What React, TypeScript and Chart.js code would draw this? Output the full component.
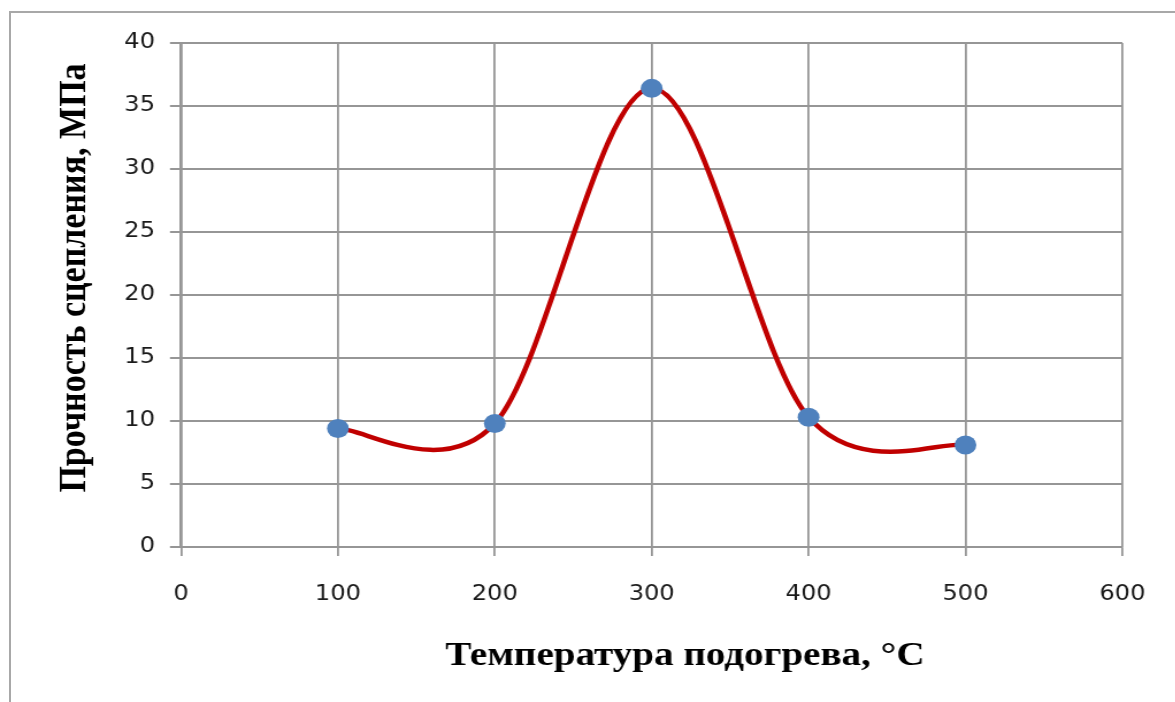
import React, { useEffect, useRef } from 'react';
import { Chart, registerables } from 'chart.js';

Chart.register(...registerables);

// Data
const temperatures = [100, 200, 300, 400, 500];
const strength = [9.4, 9.8, 36.4, 10.3, 8.1];

// leading spaces only nudge the titles to where the reference places them
const xAxisTitle = '\u2003\u2002\u2009Температура подогрева, °C';
const yAxisTitle = '\u2003Прочность сцепления, МПа';

const xRange = [0, 600];
const xStep = 100;
const yRange = [0, 40];
const yStep = 5;

// The reference picture is horizontally stretched; reproduce by scaling the canvas
const STRETCH = 1.15;
const PAGE_W = 1175;
const PAGE_H = 702;
const LOGICAL_W = Math.round(PAGE_W / STRETCH);

// Excel-style smoothing: Catmull-Rom control points (tangent = (next - prev) / 6)
const excelSmooth = {
  id: 'excelSmooth',
  beforeDatasetDraw(chart: any, args: any) {
    const meta = args.meta;
    const line = meta.dataset;
    if (!line) return;
    line.updateControlPoints(chart.chartArea, 'x');
    const pts = meta.data;
    const n = pts.length;
    for (let i = 0; i < n; i++) {
      const p = pts[i];
      const prev = pts[Math.max(i - 1, 0)];
      const next = pts[Math.min(i + 1, n - 1)];
      const tx = (next.x - prev.x) / 6;
      const ty = (next.y - prev.y) / 6;
      p.cp1x = p.x - tx;
      p.cp1y = p.y - ty;
      p.cp2x = p.x + tx;
      p.cp2y = p.y + ty;
    }
    line._path = undefined;
  },
};

export default function App() {
  const canvasRef = useRef<HTMLCanvasElement | null>(null);

  useEffect(() => {
    const canvas = canvasRef.current;
    if (!canvas) return;
    const points = temperatures.map((t, i) => ({ x: t, y: strength[i] }));
    const gridColor = '#969696';
    const titleFamily = '"Liberation Serif", "Times New Roman", serif';
    const tickFamily = '"DejaVu Sans", Verdana, sans-serif';
    const chart = new Chart(canvas, {
      type: 'line',
      data: {
        datasets: [
          {
            data: points,
            borderColor: '#C00000',
            borderWidth: 4.5,
            tension: 0.4,
            fill: false,
            pointBackgroundColor: '#4F81BD',
            pointBorderColor: '#4F81BD',
            pointBorderWidth: 0,
            pointRadius: 9.5,
            pointHoverRadius: 9.5,
          },
        ],
      },
      options: {
        responsive: false,
        animation: false,
        devicePixelRatio: 1,
        layout: { padding: { left: 44.6, right: 43, top: 43, bottom: 25.6 } },
        plugins: {
          legend: { display: false },
          tooltip: { enabled: false },
        },
        scales: {
          x: {
            type: 'linear',
            min: xRange[0],
            max: xRange[1],
            ticks: {
              stepSize: xStep,
              padding: 26,
              color: '#1a1a1a',
              font: { family: tickFamily, size: 21 },
            },
            grid: { color: gridColor, lineWidth: 1.8, tickLength: 9, tickColor: gridColor },
            border: { color: gridColor, width: 1.8 },
            title: {
              display: true,
              text: xAxisTitle,
              color: '#000',
              padding: 0,
              font: { family: titleFamily, size: 34, weight: 'bold' },
            },
            afterFit: (s: any) => {
              s.height = 129.4;
            },
          },
          y: {
            type: 'linear',
            min: yRange[0],
            max: yRange[1],
            ticks: {
              stepSize: yStep,
              padding: 13,
              color: '#1a1a1a',
              font: { family: tickFamily, size: 21 },
            },
            grid: { color: gridColor, lineWidth: 2, tickLength: 9.6, tickColor: gridColor },
            border: { color: gridColor, width: 2 },
            title: {
              display: true,
              text: yAxisTitle,
              color: '#000',
              padding: 0,
              font: { family: titleFamily, size: 34, weight: 'bold' },
            },
            afterFit: (s: any) => {
              s.width = 112.8;
            },
          },
        },
      },
      plugins: [excelSmooth],
    });
    return () => chart.destroy();
  }, []);

  return (
    <div
      style={{
        position: 'fixed',
        left: 0,
        top: 0,
        width: PAGE_W,
        height: PAGE_H,
        overflow: 'hidden',
        background: '#fff',
      }}
    >
      <div
        style={{
          position: 'absolute',
          left: 9,
          top: 11,
          width: 1400,
          height: 900,
          borderLeft: '2px solid #a8a8a8',
          borderTop: '2px solid #a8a8a8',
        }}
      />
      <canvas
        ref={canvasRef}
        width={LOGICAL_W}
        height={PAGE_H}
        style={{
          position: 'absolute',
          left: 0,
          top: 0,
          width: LOGICAL_W,
          height: PAGE_H,
          transform: `scaleX(${STRETCH})`,
          transformOrigin: '0 0',
        }}
      />
    </div>
  );
}
